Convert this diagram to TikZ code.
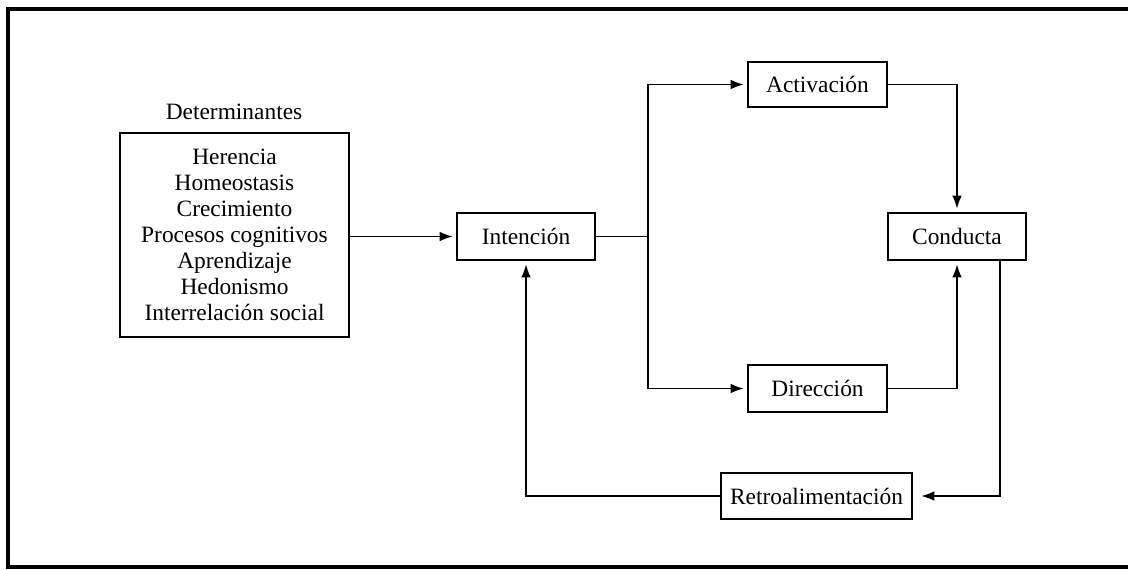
\documentclass[tikz,border=0pt]{standalone}
\usepackage{fontspec}
\setmainfont{Liberation Serif}
\usetikzlibrary{arrows.meta,calc}
\begin{document}
\begin{tikzpicture}[x=0.5pt,y=-0.5pt,
  box/.style={draw,line width=1.3pt,inner sep=0pt,align=center,
    font=\fontsize{11.7}{13}\selectfont},
  conn/.style={line width=0.75pt},
  arr/.style={conn,-{Latex[length=6.5pt,width=4.8pt]},shorten >=1.5pt},
  lbl/.style={font=\fontsize{11.7}{13}\selectfont}]
  \useasboundingbox (0,0) rectangle (1128,569);
  % outer frame, open on the right
  \draw[line width=1.6pt] (1135,9) -- (8,9) -- (8,567) -- (1135,567);

  % boxes
  \node[lbl] (dettitle) at (234,112) {Determinantes};
  \node[box,minimum width=114.5pt,minimum height=102pt] (det) at (234.5,235)
    {Herencia\\Homeostasis\\Crecimiento\\Procesos cognitivos\\Aprendizaje\\Hedonismo\\Interrelación social};
  \node[box,minimum width=69pt,minimum height=23.5pt] (int) at (526,236.5) {Intención};
  \node[box,minimum width=69.5pt,minimum height=22.5pt] (act) at (817.5,84.5) {Activación};
  \node[box,minimum width=69pt,minimum height=23.5pt] (con) at (957,236.5) {Conducta};
  \node[box,minimum width=69.5pt,minimum height=23.5pt] (dir) at (817.5,388.5) {Dirección};
  \node[box,minimum width=95.5pt,minimum height=23pt] (ret) at (816.5,496) {Retroalimentación};

  % branch point right of Intención
  \coordinate (br) at (648,236.5);
  \coordinate (fb) at ($(con.south)+(43,0)$);

  % connectors
  \draw[arr] (det.east |- int.west) -- (int.west);
  \draw[conn] (int.east) -- (br);
  \draw[arr] (br) |- (act.west);
  \draw[arr] (br) |- (dir.west);
  \draw[arr] (act.east) -| (con.north);
  \draw[arr] (dir.east) -| (con.south);
  \draw[arr,shorten >=4pt] (fb) |- (ret.east);
  \draw[arr] (ret.west) -| (int.south);
\end{tikzpicture}
\end{document}
